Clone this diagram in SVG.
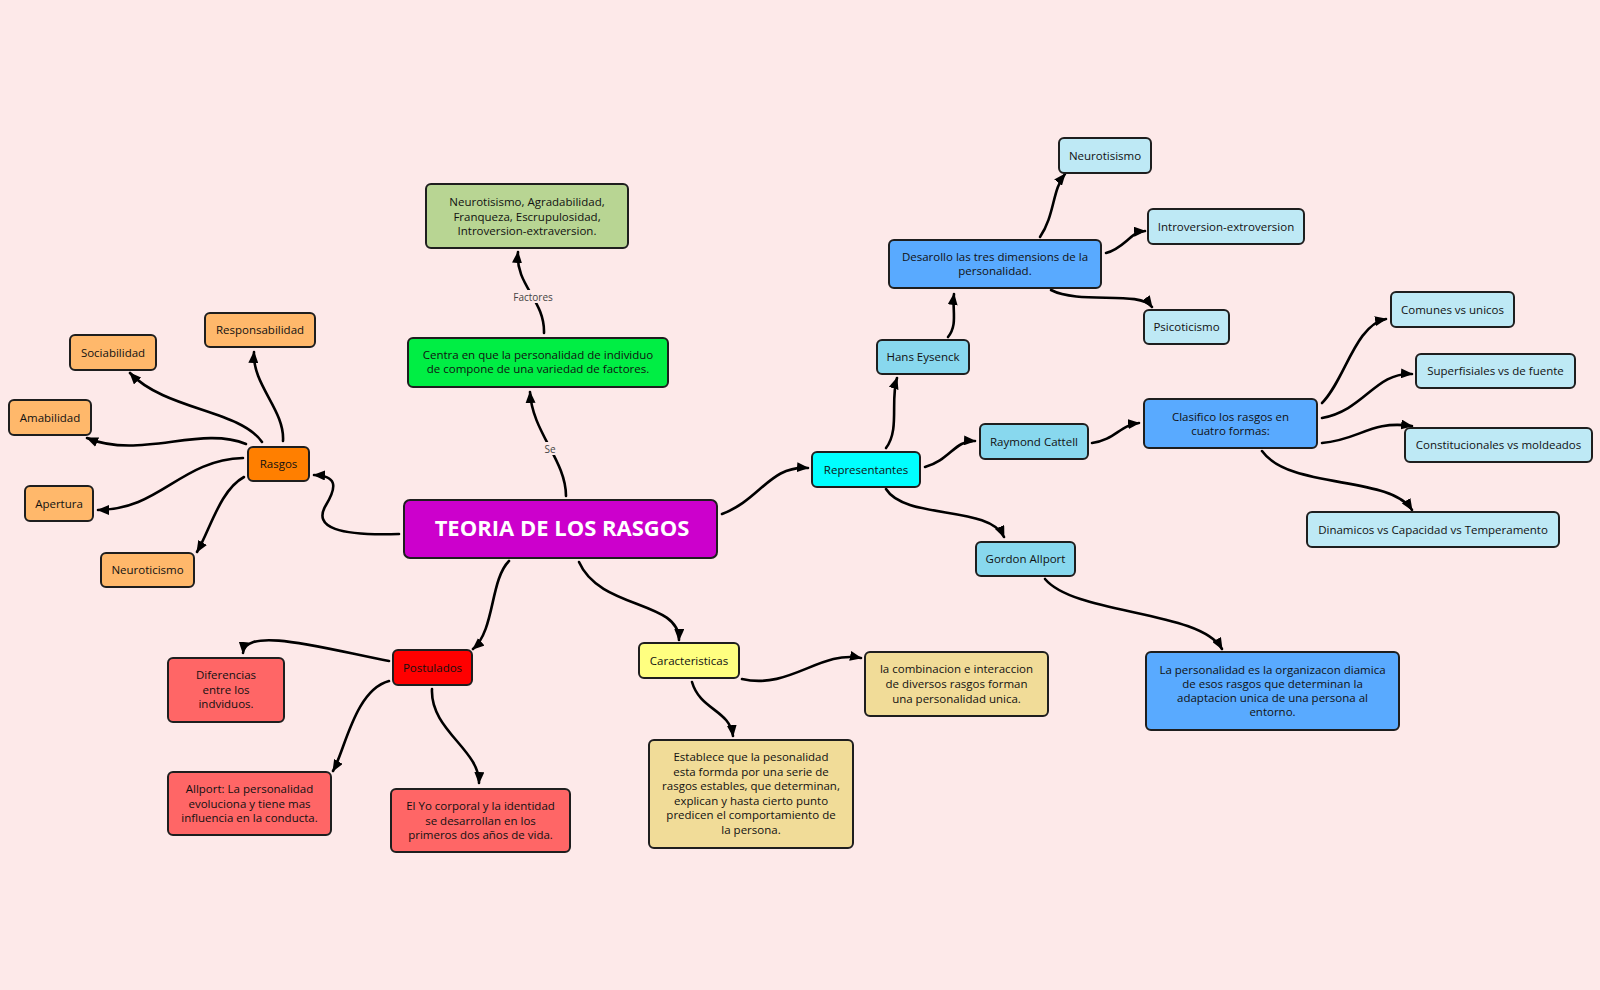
<svg xmlns="http://www.w3.org/2000/svg" width="1600" height="990" viewBox="0 0 1600 990">
<style>
  .n rect { stroke: #1e1e1e; stroke-width: 2; }
  .n text { font-family: "Open Sans", "Noto Sans", "Liberation Sans", sans-serif; font-size: 11.5px; fill: #111; text-anchor: middle; }
  .c path { fill: none; stroke: #000; stroke-width: 2.6; stroke-linecap: round; marker-end: url(#ah); }
  .lbl { font-family: "Open Sans", "Noto Sans", "Liberation Sans", sans-serif; font-size: 10px; fill: #444; text-anchor: middle; }
  .orange { fill: #ffb86b; }
  .lblue { fill: #bee9f5; }
  .mblue { fill: #88d8ee; }
  .dblue { fill: #59aaff; }
  .pink { fill: #ff6666; }
  .tan { fill: #f1dc98; }
</style>
<defs>
  <marker id="ah" viewBox="0 0 12 10" refX="11" refY="5" markerWidth="12" markerHeight="10" markerUnits="userSpaceOnUse" orient="auto">
    <path d="M0,0 L12,5 L0,10 z" fill="#000"/>
  </marker>
</defs>
<rect x="0" y="0" width="1600" height="990" fill="#fde9e9"/>

<g id="connectors" class="c">
  <path d="M399,534 C340,536 312,528 326,505 C338,485 336,476 314,475"/>
  <path d="M283,441 C285,410 252,385 254,352"/>
  <path d="M262,442 C240,410 165,410 130,373"/>
  <path d="M246,444 C200,425 140,460 87,438"/>
  <path d="M243,458 C180,460 160,510 98,510"/>
  <path d="M244,477 C220,490 210,530 197,552"/>
  <path d="M566,496 C566,460 532,432 530,392"/>
  <path d="M544,333 C545,300 515,285 518,252"/>
  <path d="M509,561 C490,580 495,630 473,649"/>
  <path d="M579,562 C600,610 680,600 679,640"/>
  <path d="M722,514 C760,500 770,465 808,468"/>
  <path d="M389,661 C330,650 245,625 243,653"/>
  <path d="M389,681 C355,690 345,750 333,771"/>
  <path d="M432,689 C430,730 480,750 479,783"/>
  <path d="M742,679 C790,690 820,650 861,658"/>
  <path d="M692,682 C700,710 730,710 733,736"/>
  <path d="M886,448 C900,430 890,400 897,378"/>
  <path d="M925,467 C950,460 955,440 975,441"/>
  <path d="M886,489 C905,520 990,505 1004,537"/>
  <path d="M948,337 C958,325 952,310 954,294"/>
  <path d="M1040,237 C1055,215 1052,190 1065,174"/>
  <path d="M1106,253 C1125,248 1130,232 1145,231"/>
  <path d="M1051,290 C1080,305 1140,290 1152,307"/>
  <path d="M1092,443 C1115,440 1120,425 1139,423"/>
  <path d="M1322,403 C1345,380 1355,325 1386,319"/>
  <path d="M1322,418 C1365,410 1375,372 1412,374"/>
  <path d="M1322,443 C1360,440 1370,420 1412,426"/>
  <path d="M1262,451 C1290,490 1390,475 1412,510"/>
  <path d="M1045,579 C1075,615 1200,610 1222,649"/>
</g>

<g id="labels">
  <rect x="542" y="442" width="17" height="13" fill="#fde9e9"/>
  <text class="lbl" x="550" y="453">Se</text>
  <rect x="512" y="290" width="42" height="13" fill="#fde9e9"/>
  <text class="lbl" x="533" y="301">Factores</text>
</g>

<g id="main" class="n">
  <rect x="404" y="500" width="313" height="58" rx="6" fill="#cc00cc"/>
  <text x="562" y="536" style="font-size:22px;font-weight:bold;fill:#fff">TEORIA DE LOS RASGOS</text>
</g>

<g id="rasgos" class="n">
  <rect x="248" y="447" width="61" height="34" rx="5" fill="#ff7f00"/>
  <text x="278.5" y="468">Rasgos</text>
</g>
<g id="responsabilidad" class="n">
  <rect class="orange" x="205" y="313" width="110" height="34" rx="5"/>
  <text x="260" y="334">Responsabilidad</text>
</g>
<g id="sociabilidad" class="n">
  <rect class="orange" x="70" y="335" width="86" height="35" rx="5"/>
  <text x="113" y="356.5">Sociabilidad</text>
</g>
<g id="amabilidad" class="n">
  <rect class="orange" x="9" y="400" width="82" height="35" rx="5"/>
  <text x="50" y="421.5">Amabilidad</text>
</g>
<g id="apertura" class="n">
  <rect class="orange" x="25" y="486" width="68" height="35" rx="5"/>
  <text x="59" y="507.5">Apertura</text>
</g>
<g id="neuroticismo" class="n">
  <rect class="orange" x="101" y="553" width="93" height="34" rx="5"/>
  <text x="147.5" y="574">Neuroticismo</text>
</g>

<g id="centra" class="n">
  <rect x="408" y="338" width="260" height="49" rx="5" fill="#00ee44"/>
  <text x="538" y="359">Centra en que la personalidad de individuo</text>
  <text x="538" y="373">de compone de una variedad de factores.</text>
</g>
<g id="factores" class="n">
  <rect x="426" y="184" width="202" height="64" rx="5" fill="#b8d593"/>
  <text x="527" y="206">Neurotisismo, Agradabilidad,</text>
  <text x="527" y="220.5">Franqueza, Escrupulosidad,</text>
  <text x="527" y="235">Introversion-extraversion.</text>
</g>

<g id="postulados" class="n">
  <rect x="393" y="650" width="79" height="35" rx="5" fill="#ff0000"/>
  <text x="432.5" y="671.5">Postulados</text>
</g>
<g id="diferencias" class="n">
  <rect class="pink" x="168" y="658" width="116" height="64" rx="5"/>
  <text x="226" y="679">Diferencias</text>
  <text x="226" y="693.5">entre los</text>
  <text x="226" y="708">indviduos.</text>
</g>
<g id="allport-post" class="n">
  <rect class="pink" x="168" y="772" width="163" height="63" rx="5"/>
  <text x="249.5" y="793">Allport: La personalidad</text>
  <text x="249.5" y="807.5">evoluciona y tiene mas</text>
  <text x="249.5" y="822">influencia en la conducta.</text>
</g>
<g id="elyo" class="n">
  <rect class="pink" x="391" y="789" width="179" height="63" rx="5"/>
  <text x="480.5" y="810">El Yo corporal y la identidad</text>
  <text x="480.5" y="824.5">se desarrollan en los</text>
  <text x="480.5" y="839">primeros dos años de vida.</text>
</g>

<g id="caracteristicas" class="n">
  <rect x="639" y="643" width="100" height="35" rx="5" fill="#ffff80"/>
  <text x="689" y="664.5">Caracteristicas</text>
</g>
<g id="combinacion" class="n">
  <rect class="tan" x="865" y="652" width="183" height="64" rx="5"/>
  <text x="956.5" y="673">la combinacion e interaccion</text>
  <text x="956.5" y="688">de diversos rasgos forman</text>
  <text x="956.5" y="703">una personalidad unica.</text>
</g>
<g id="establece" class="n">
  <rect class="tan" x="649" y="740" width="204" height="108" rx="5"/>
  <text x="751" y="761">Establece que la pesonalidad</text>
  <text x="751" y="775.5">esta formda por una serie de</text>
  <text x="751" y="790">rasgos estables, que determinan,</text>
  <text x="751" y="804.5">explican y hasta cierto punto</text>
  <text x="751" y="819">predicen el comportamiento de</text>
  <text x="751" y="833.5">la persona.</text>
</g>

<g id="representantes" class="n">
  <rect x="812" y="452" width="108" height="35" rx="5" fill="#00ffff"/>
  <text x="866" y="473.5">Representantes</text>
</g>
<g id="hans" class="n">
  <rect class="mblue" x="877" y="340" width="92" height="34" rx="5"/>
  <text x="923" y="361">Hans Eysenck</text>
</g>
<g id="raymond" class="n">
  <rect class="mblue" x="980" y="424" width="108" height="35" rx="5"/>
  <text x="1034" y="445.5">Raymond Cattell</text>
</g>
<g id="gordon" class="n">
  <rect class="mblue" x="976" y="542" width="99" height="34" rx="5"/>
  <text x="1025.5" y="563">Gordon Allport</text>
</g>
<g id="desarollo" class="n">
  <rect class="dblue" x="889" y="240" width="212" height="48" rx="5"/>
  <text x="995" y="261">Desarollo las tres dimensions de la</text>
  <text x="995" y="275">personalidad.</text>
</g>
<g id="neurotisismo" class="n">
  <rect class="lblue" x="1059" y="138" width="92" height="35" rx="5"/>
  <text x="1105" y="159.5">Neurotisismo</text>
</g>
<g id="introversion" class="n">
  <rect class="lblue" x="1148" y="209" width="156" height="35" rx="5"/>
  <text x="1226" y="230.5">Introversion-extroversion</text>
</g>
<g id="psicoticismo" class="n">
  <rect class="lblue" x="1144" y="310" width="85" height="34" rx="5"/>
  <text x="1186.5" y="331">Psicoticismo</text>
</g>
<g id="clasifico" class="n">
  <rect class="dblue" x="1144" y="399" width="173" height="49" rx="5"/>
  <text x="1230.5" y="420.5">Clasifico los rasgos en</text>
  <text x="1230.5" y="434.5">cuatro formas:</text>
</g>
<g id="comunes" class="n">
  <rect class="lblue" x="1391" y="292" width="123" height="35" rx="5"/>
  <text x="1452.5" y="313.5">Comunes vs unicos</text>
</g>
<g id="superfisiales" class="n">
  <rect class="lblue" x="1416" y="354" width="159" height="34" rx="5"/>
  <text x="1495.5" y="375">Superfisiales vs de fuente</text>
</g>
<g id="constitucionales" class="n">
  <rect class="lblue" x="1405" y="428" width="187" height="34" rx="5"/>
  <text x="1498.5" y="449">Constitucionales vs moldeados</text>
</g>
<g id="dinamicos" class="n">
  <rect class="lblue" x="1307" y="512" width="252" height="35" rx="5"/>
  <text x="1433" y="533.5">Dinamicos vs Capacidad vs Temperamento</text>
</g>
<g id="organizacion" class="n">
  <rect class="dblue" x="1146" y="652" width="253" height="78" rx="5"/>
  <text x="1272.5" y="674">La personalidad es la organizacon diamica</text>
  <text x="1272.5" y="688">de esos rasgos que determinan la</text>
  <text x="1272.5" y="702">adaptacion unica de una persona al</text>
  <text x="1272.5" y="716">entorno.</text>
</g>
</svg>
